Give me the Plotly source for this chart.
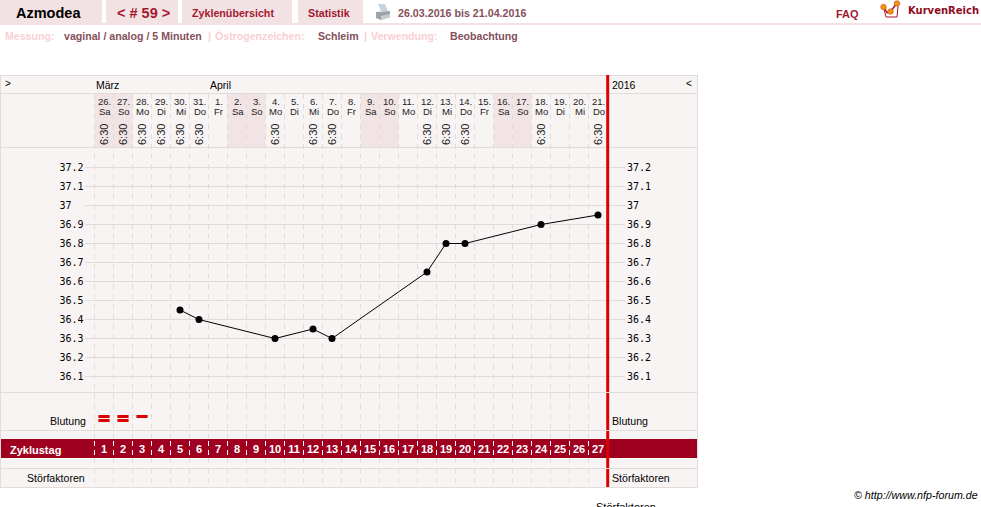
import plotly.graph_objects as go

W, H = 981, 507
LF = "Liberation Sans"

# ---- data ----
cycle_days = list(range(1, 28))
date_labels = ["26.", "27.", "28.", "29.", "30.", "31.", "1.", "2.", "3.", "4.", "5.", "6.", "7.", "8.", "9.",
               "10.", "11.", "12.", "13.", "14.", "15.", "16.", "17.", "18.", "19.", "20.", "21."]
weekdays = ["Sa", "So", "Mo", "Di", "Mi", "Do", "Fr", "Sa", "So", "Mo", "Di", "Mi", "Do", "Fr", "Sa",
            "So", "Mo", "Di", "Mi", "Do", "Fr", "Sa", "So", "Mo", "Di", "Mi", "Do"]
temp_days = [5, 6, 10, 12, 13, 18, 19, 20, 24, 27]
temp_values = [36.45, 36.4, 36.3, 36.35, 36.3, 36.65, 36.8, 36.8, 36.9, 36.95]
time_days = [1, 2, 3, 4, 5, 6, 10, 12, 13, 18, 19, 20, 24, 27]
time_label = "6:30"
y_ticks = [37.2, 37.1, 37.0, 36.9, 36.8, 36.7, 36.6, 36.5, 36.4, 36.3, 36.2, 36.1]
y_labels = ["37.2", "37.1", "37", "36.9", "36.8", "36.7", "36.6", "36.5", "36.4", "36.3", "36.2", "36.1"]
bleed_days = [1, 2, 3, 1, 2]
bleed_rows = [1, 1, 1, 2, 2]
weekend_days = [1, 2, 8, 9, 15, 16, 22, 23]

# ---- pixel helpers for page furniture ----
def X(p): return p / W
def Y(p): return 1 - p / H

PANEL = "#F9F4F4"; GRID = "#DFDCDA"; PINK = "#F3E2E4"; WKND = "#F2E4E5"
BAND = "#A00020"; RED = "#DD0000"; TAB = "#A3182F"; MUTED = "#85505A"; PALE = "#F8D0D3"

shapes = []
def rect(x0, y0, x1, y1, color):
    shapes.append(dict(type="rect", xref="paper", yref="paper", x0=X(x0), x1=X(x1), y0=Y(y0), y1=Y(y1),
                       fillcolor=color, line_width=0, layer="below"))
def line(x0, y0, x1, y1, color, width=1, dash=None, layer="below"):
    shapes.append(dict(type="line", xref="paper", yref="paper", x0=X(x0), x1=X(x1), y0=Y(y0), y1=Y(y1),
                       line=dict(color=color, width=width, dash=dash), layer=layer))
def poly(pts, color):
    path = "M " + " L ".join(f"{X(a):.5f},{Y(b):.5f}" for a, b in pts) + " Z"
    shapes.append(dict(type="path", xref="paper", yref="paper", path=path, fillcolor=color, line_width=0,
                       layer="below"))

# header tabs
rect(0, 0, 102, 23, PINK); rect(106, 0, 178, 23, PINK); rect(182, 0, 292, 23, PINK); rect(298, 0, 363, 23, PINK)
rect(0, 23, W, 25, PINK)

# chart panel
rect(0, 75, 698, 488, GRID)
rect(1, 76, 697, 487, PANEL)
for d in weekend_days:
    shapes.append(dict(type="rect", xref="x", yref="paper", x0=d - 0.5, x1=d + 0.5, y0=Y(94), y1=Y(147.5),
                       fillcolor=WKND, line_width=0, layer="below"))
for p in [93.5, 147.5, 392.5, 430.5, 468.5]:
    line(0, p, 697, p, GRID)
rect(1, 439, 697, 458, BAND)

# horizontal grid, via the temperature scale
for v in y_ticks:
    shapes.append(dict(type="line", xref="paper", yref="y", x0=X(85), x1=X(625), y0=v, y1=v,
                       line=dict(color=GRID, width=1), layer="below"))
# vertical dashed day separators
for d in range(0, 27):
    for (a, b) in [(94, 439), (458, 487)]:
        shapes.append(dict(type="line", xref="x", yref="paper", x0=d + 0.5, x1=d + 0.5, y0=Y(a), y1=Y(b),
                           line=dict(color=GRID, width=1, dash="5px,5px"), layer="below"))
    shapes.append(dict(type="line", xref="x", yref="paper", x0=d + 0.5, x1=d + 0.5, y0=Y(441), y1=Y(457),
                       line=dict(color="#FFFFFF", width=1, dash="5px,4px"), layer="below"))
# red end-of-cycle line
for a, b in [(75, 392), (393, 430), (431, 468), (469, 487)]:
    line(607.7, a, 607.7, b, RED, 3)

# printer icon
poly([(378, 4), (385, 4), (388, 11), (381, 11)], "#C5D3DE")
poly([(376, 12), (390, 11), (390, 17), (381, 20), (376, 18)], "#9DA3A8")
poly([(381, 16), (390, 14), (390, 17), (381, 20)], "#C8CBCE")
# logo
line(884, 7, 887, 13, "#A3182F", 1.5, layer="above")
line(887, 13, 891, 11, "#A3182F", 1.5, layer="above")
line(891, 11, 897, 3, "#A3182F", 1.5, layer="above")
line(884, 9, 886, 17, "#A3182F", 1, layer="above")
line(886, 17, 897, 17, "#A3182F", 1, layer="above")
line(897, 17, 898, 6, "#A3182F", 1, layer="above")
for cx, cy in [(883.5, 7), (890.5, 11.5), (897, 3.5)]:
    shapes.append(dict(type="circle", xref="paper", yref="paper", x0=X(cx - 2.8), x1=X(cx + 2.8),
                       y0=Y(cy - 2.8), y1=Y(cy + 2.8), fillcolor="#F0960A", line=dict(color="#C0392B", width=0.5),
                       layer="above"))

anns = []
def text(x, y, s, size=11, color="#000000", bold=False, italic=False, anchor="left", family=LF):
    if bold: s = f"<b>{s}</b>"
    if italic: s = f"<i>{s}</i>"
    anns.append(dict(xref="paper", yref="paper", x=X(x), y=Y(y), text=s, showarrow=False, xanchor=anchor,
                     yanchor="middle", xshift=0, font=dict(size=size, color=color, family=family),
                     borderpad=0, borderwidth=0))

text(48, 13, "Azmodea", 14.5, "#000000", True, anchor="center")
text(143, 13, "&lt; # 59 &gt;", 14.5, TAB, True, anchor="center")
text(233, 12.5, "Zyklenübersicht", 10.7, TAB, True, anchor="center")
text(328.5, 12.5, "Statistik", 10.7, TAB, True, anchor="center")
text(398, 12.5, "26.03.2016 bis 21.04.2016", 10.7, MUTED, True)
text(847, 14, "FAQ", 11, TAB, True, anchor="center")
text(908, 10.5, "KurvenReich", 10, "#8F0A22", True, family="DejaVu Sans")

text(5, 36, "Messung:", 10.6, PALE, True)
text(64, 36, "vaginal / analog / 5 Minuten", 10.6, MUTED, True)
text(208, 36, "|", 11, PALE, True)
text(215, 36, "Östrogenzeichen:", 10.6, PALE, True)
text(318, 36, "Schleim", 10.6, MUTED, True)
text(364, 36, "|", 11, PALE, True)
text(371, 36, "Verwendung:", 10.6, PALE, True)
text(450, 36, "Beobachtung", 10.6, MUTED, True)

text(5, 84, "&gt;", 10); text(686, 84, "&lt;", 10)
text(96, 85.5, "März", 10.5); text(210, 85.5, "April", 10.5); text(612, 85.5, "2016", 10.5)

text(86, 420.5, "Blutung", 10.6, "#000000", anchor="right")
text(612, 420.5, "Blutung", 10.6)
text(10, 449.5, "Zyklustag", 11, "#FFFFFF", True)
text(85, 477.5, "Störfaktoren", 10.6, "#000000", anchor="right")
text(612, 477.5, "Störfaktoren", 10.6)
text(977.5, 495, "© http://www.nfp-forum.de", 10.7, "#000000", italic=True, anchor="right")
text(626, 507, "Störfaktoren", 11, "#000000", anchor="center")

for d, a, b in zip(cycle_days, date_labels, weekdays):
    for p, s in [(101, a), (111.5, b)]:
        anns.append(dict(xref="x", yref="paper", x=d, y=Y(p), text=s, showarrow=False, xanchor="center",
                         yanchor="middle", xshift=0.5, font=dict(size=9.5, color="#222222", family=LF)))
for d in time_days:
    anns.append(dict(xref="x", yref="paper", x=d, y=Y(135), text=time_label, showarrow=False, xanchor="center",
                     yanchor="middle", textangle=-90, font=dict(size=11, color="#222222", family=LF)))

fig = go.Figure()
fig.add_trace(go.Scatter(x=temp_days, y=temp_values, mode="lines+markers", xaxis="x", yaxis="y",
                         line=dict(color="#000000", width=1), marker=dict(color="#000000", size=7),
                         hoverinfo="skip", showlegend=False))
fig.add_trace(go.Scatter(x=bleed_days, y=bleed_rows, mode="markers", xaxis="x", yaxis="y3",
                         marker=dict(symbol="line-ew", size=8, line=dict(color=RED, width=3)),
                         hoverinfo="skip", showlegend=False))
# invisible trace so the right-hand temperature axis is live
fig.add_trace(go.Scatter(x=temp_days, y=temp_values, mode="none", xaxis="x", yaxis="y2",
                         hoverinfo="skip", showlegend=False))

# axes mapped over the full page: day d centre = 104 + 19(d-1) px; 37.2 at y=167.5 px, 19 px per 0.1
x_range = [1 - 104 / 19, 1 + (W - 104) / 19]
y_range = [37.2 - (H - 167.5) / 190, 37.2 + 167.5 / 190]
y3_range = [1 + (H - 416.5) / 4, 1 - 416.5 / 4]

MONO = dict(size=10, color="#000000", family="DejaVu Sans Mono")
fig.update_layout(
    width=W, height=H, autosize=False, margin=dict(l=0, r=0, t=0, b=0),
    paper_bgcolor="#FFFFFF", plot_bgcolor="rgba(0,0,0,0)", showlegend=False,
    shapes=shapes, annotations=anns,
    xaxis=dict(range=x_range, domain=[0, 1], anchor="free", position=Y(441), side="bottom",
               tickmode="array", tickvals=cycle_days, ticktext=[str(d) for d in cycle_days],
               tickfont=dict(size=11, color="#FFFFFF", family=LF + ", sans-serif", weight="bold"),
               ticks="", showgrid=False, zeroline=False, showline=False, tickangle=0),
    yaxis=dict(range=y_range, domain=[0, 1], anchor="free", position=X(83.5), side="left",
               tickmode="array", tickvals=y_ticks,
               ticktext=[s.ljust(4, "\u00a0") for s in y_labels], tickfont=MONO,
               ticks="", showgrid=False, zeroline=False, showline=False),
    yaxis2=dict(range=y_range, domain=[0, 1], anchor="free", overlaying="y", position=X(626), side="right",
                tickmode="array", tickvals=y_ticks, ticktext=y_labels, tickfont=MONO,
                ticks="", showgrid=False, zeroline=False, showline=False),
    yaxis3=dict(range=y3_range, domain=[0, 1], anchor="free", overlaying="y", position=0, visible=False),
)
fig.write_html("out.html", config=dict(displayModeBar=False),
               post_script="document.body.style.margin='0';document.body.style.overflow='hidden';")
